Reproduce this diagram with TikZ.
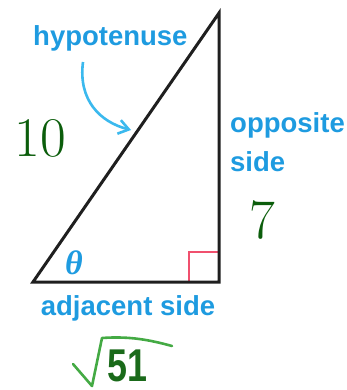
\documentclass[tikz,border=0pt]{standalone}
\usepackage{fontspec}
\newfontfamily\labfont{Liberation Sans}
\newfontfamily\thfont{Liberation Serif}
\usetikzlibrary{arrows.meta}
\definecolor{labblue}{HTML}{1E9BE0}
\definecolor{arrblue}{HTML}{3BB9EE}
\definecolor{numgreen}{HTML}{0B5D0B}
\definecolor{sqgreen}{HTML}{44AA44}
\definecolor{digreen}{HTML}{1A6A1A}
\definecolor{angred}{HTML}{F0506E}
\tikzset{
  lab/.style={inner sep=0pt, text=labblue, font=\labfont\bfseries\fontsize{27.5}{30}\selectfont},
  num/.style={inner sep=0pt, text=numgreen, font=\fontsize{56}{60}\selectfont},
  side/.style={line width=3pt, draw=black!88, line join=miter},
}
\begin{document}
\begin{tikzpicture}[x=1pt,y=-1pt]
\useasboundingbox (0,0) rectangle (346,390);
\coordinate (A) at (33,282);
\coordinate (B) at (219,282);
\coordinate (C) at (219,13);
\draw[angred, line width=2.2pt] (189,282) -- (189,252) -- (219,252);
\draw[side] (A) -- (B) -- (C) -- cycle;
\node[lab, anchor=base west] (hyp) at (33,46) {hypotenuse};
\node[lab, anchor=base west] (opp) at (230,132) {opposite};
\node[lab, anchor=base west] (sid) at (230,171) {side};
\node[lab, anchor=base] (adj) at (128,315) {adjacent side};
\node[inner sep=0pt, text=labblue, font=\thfont\bfseries\itshape\fontsize{34}{36}\selectfont] (th) at (74,263) {θ};
\coordinate (hs) at (83,62);
\coordinate (he) at (131,130);
\draw[arrblue, line width=2.6pt, -{Straight Barb[length=10pt,width=14pt]}] (hs) .. controls (78,100) and (100,122) .. (he);
\node[num] (ten) at (40,138) {10};
\node[num] (seven) at (262,220) {7};
\coordinate (s1) at (73,364);
\coordinate (s2) at (92,386);
\coordinate (s3) at (102,338);
\coordinate (s4) at (172,346);
\draw[sqgreen, line width=2.6pt, line join=round, line cap=round] (s1) -- (s2) -- (s3) .. controls (130,336) and (150,340) .. (s4);
\node[inner sep=0pt, anchor=base west, text=digreen, font=\labfont\bfseries\fontsize{46}{48}\selectfont] (fiftyone) at (107,381) {\scalebox{0.78}[1]{51}};
\end{tikzpicture}
\end{document}
